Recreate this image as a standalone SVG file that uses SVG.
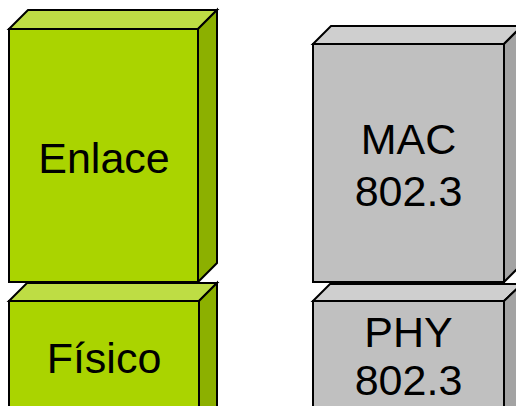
<svg xmlns="http://www.w3.org/2000/svg" width="516" height="406" viewBox="0 0 516 406">
<style>
.s{stroke:#000;stroke-width:2;stroke-linejoin:miter}
.gf{fill:#AAD400}.gt{fill:#BEDD44}.gr{fill:#8CB000}
.af{fill:#C0C0C0}.at{fill:#CFCFCF}.ar{fill:#A3A3A3}
text{font-family:"Liberation Sans",Arial,sans-serif;font-size:43px;fill:#000;text-anchor:middle}
</style>
<rect width="516" height="406" fill="#fff"/>
<g id="enlace">
<polygon class="s gt" points="9,29 28,10 217,10 198,29"/>
<polygon class="s gr" points="198,29 217,10 217,263 198,282"/>
<rect class="s gf" x="9" y="29" width="189" height="253"/>
<text x="104" y="173">Enlace</text>
</g>
<g id="fisico">
<polygon class="s gt" points="9,301 27,283 217,283 199,301"/>
<polygon class="s gr" points="199,301 217,283 217,420 199,420"/>
<rect class="s gf" x="9" y="301" width="190" height="120"/>
<text x="104" y="373">Físico</text>
</g>
<g id="mac">
<polygon class="s at" points="313,44 331,26 522,26 504,44"/>
<polygon class="s ar" points="504,44 522,26 522,264 504,282"/>
<rect class="s af" x="313" y="44" width="191" height="238"/>
<text x="408.5" y="154">MAC</text>
<text x="408.5" y="206">802.3</text>
</g>
<g id="phy">
<polygon class="s at" points="313,301 330,284 522,284 504,301"/>
<polygon class="s ar" points="504,301 522,284 522,420 504,420"/>
<rect class="s af" x="313" y="301" width="191" height="120"/>
<text x="408.5" y="347">PHY</text>
<text x="408.5" y="395">802.3</text>
</g>
<g id="connectors"/>
</svg>
